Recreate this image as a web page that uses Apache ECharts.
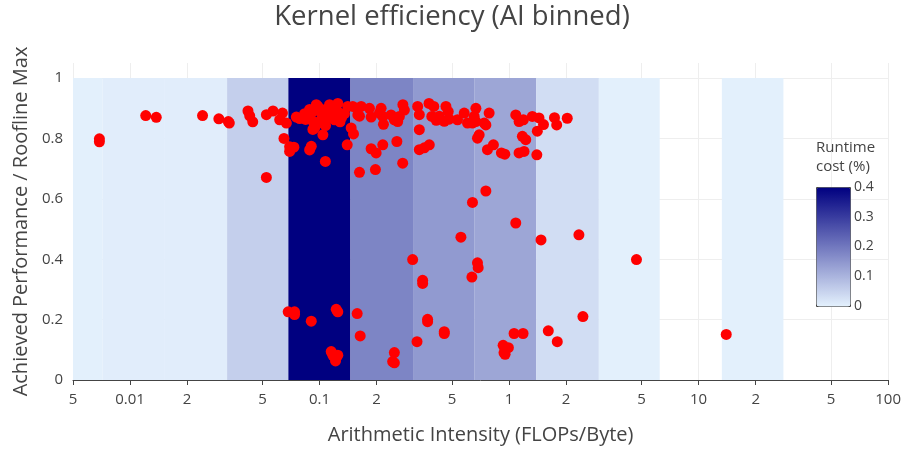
<!DOCTYPE html>
<html>
<head>
<meta charset="utf-8">
<title>Kernel efficiency (AI binned)</title>
<script src="https://cdn.jsdelivr.net/npm/echarts@6/dist/echarts.min.js"></script>
<style>
  html, body { margin: 0; padding: 0; background: #fff; }
  #chart { width: 904px; height: 450px; }
</style>
</head>
<body>
<div id="chart"></div>
<script>
// AI bins (FLOPs/Byte) and the runtime cost (%) of each bin, null = no kernels in bin
const binEdges = [0.00337, 0.00718, 0.01528, 0.03251, 0.06844, 0.1456, 0.3113, 0.6544, 1.392, 2.976, 6.233, 13.26, 28.02]
const binCost = [0.002, 0.006, 0.006, 0.056, 0.4, 0.18, 0.145, 0.125, 0.033, 0.002, null, 0.002]

// one entry per kernel
const aiValues = [
  0.00689, 0.00689, 0.0121, 0.01375, 0.02413, 0.02941, 0.0330, 0.0334, 0.0419, 0.0428,
  0.0444, 0.0524, 0.0524, 0.0568, 0.0616, 0.0637, 0.0668, 0.0649, 0.0695, 0.0732,
  0.0695, 0.0754, 0.0834, 0.0886, 0.0922, 0.0980, 0.0961, 0.1062, 0.1129, 0.1021,
  0.1041, 0.0941, 0.1041, 0.0904, 0.0886, 0.1073, 0.1248, 0.1274, 0.1282, 0.1409,
  0.1468, 0.1510, 0.1399, 0.0886, 0.0922, 0.0922, 0.0953, 0.1024, 0.1102, 0.0976,
  0.1075, 0.1171, 0.1305, 0.0844, 0.0785, 0.0865, 0.1199, 0.1354,
  0.1497, 0.1591, 0.1658, 0.1591, 0.1624, 0.1833, 0.1871, 0.2112, 0.2069, 0.2155,
  0.2173, 0.2384, 0.2481, 0.2583, 0.2637, 0.2751, 0.2802, 0.1871, 0.1988, 0.2155,
  0.2558, 0.2745, 0.1624, 0.1971,
  0.3292, 0.3360, 0.3360, 0.3360, 0.3570, 0.3793, 0.3780, 0.4005, 0.3910, 0.4127,
  0.4280, 0.4643, 0.4775, 0.4833, 0.4549, 0.5343, 0.5797, 0.6033, 0.6409, 0.6544,
  0.6681, 0.6681, 0.7388, 0.7847, 0.7540, 0.6952, 0.6810, 0.7687, 0.8267, 0.9109,
  0.9492, 1.0845, 1.1289, 1.1893, 1.3263, 1.1749, 1.2243, 1.1289, 1.1992,
  1.4384, 1.5189, 1.4090, 1.4007, 1.7358, 1.7827, 2.0271,
  0.6409, 0.7540, 1.0845, 0.5569, 0.3098, 0.6810, 0.6868, 0.6364, 0.3498, 0.3498,
  0.0683, 0.0738, 0.0738, 0.1224, 0.1248, 0.0904, 0.1579, 0.3715, 0.3715, 0.1638,
  0.4549, 0.4549, 0.3267, 1.0624, 1.1849, 0.9299, 0.9915, 0.9527, 0.9400, 0.1152,
  0.1175, 0.1248, 0.1214, 0.2481, 0.2430, 0.2481, 2.3357, 1.4737, 4.700, 2.4518,
  1.6101, 1.7957, 13.99
]
const perfValues = [
  0.799, 0.789, 0.876, 0.870, 0.876, 0.865, 0.856, 0.851, 0.891, 0.875,
  0.855, 0.879, 0.671, 0.891, 0.862, 0.884, 0.851, 0.800, 0.773, 0.771,
  0.757, 0.871, 0.882, 0.866, 0.889, 0.906, 0.912, 0.895, 0.912, 0.862,
  0.879, 0.834, 0.812, 0.774, 0.762, 0.724, 0.916, 0.884, 0.855, 0.906,
  0.835, 0.815, 0.779, 0.896, 0.857, 0.830, 0.896, 0.886, 0.869, 0.850,
  0.843, 0.894, 0.869, 0.863, 0.866, 0.883, 0.862, 0.882,
  0.906, 0.898, 0.906, 0.878, 0.874, 0.900, 0.871, 0.900, 0.884, 0.873,
  0.847, 0.878, 0.862, 0.856, 0.873, 0.912, 0.894, 0.766, 0.752, 0.779,
  0.790, 0.718, 0.688, 0.697,
  0.906, 0.879, 0.829, 0.763, 0.769, 0.779, 0.916, 0.906, 0.873, 0.860,
  0.874, 0.906, 0.889, 0.864, 0.857, 0.862, 0.884, 0.851, 0.851, 0.873,
  0.900, 0.856, 0.851, 0.884, 0.845, 0.812, 0.801, 0.763, 0.779, 0.752,
  0.748, 0.878, 0.856, 0.862, 0.873, 0.807, 0.796, 0.752, 0.757,
  0.868, 0.846, 0.824, 0.746, 0.869, 0.845, 0.867,
  0.588, 0.626, 0.520, 0.473, 0.399, 0.388, 0.372, 0.341, 0.330, 0.320,
  0.226, 0.226, 0.217, 0.234, 0.226, 0.195, 0.220, 0.201, 0.193, 0.146,
  0.160, 0.154, 0.127, 0.154, 0.154, 0.115, 0.107, 0.085, 0.090, 0.094,
  0.082, 0.082, 0.063, 0.091, 0.061, 0.057, 0.481, 0.464, 0.399, 0.210,
  0.163, 0.127, 0.151
]

// tick labels
const aiTicks = [0.005, 0.01, 0.02, 0.05, 0.1, 0.2, 0.5, 1, 2, 5, 10, 20, 50, 100]
const aiTickLabels = ['5', '0.01', '2', '5', '0.1', '2', '5', '1', '2', '5', '10', '2', '5', '100']
const perfTicks = [0, 0.2, 0.4, 0.6, 0.8, 1]
const costTicks = [0, 0.1, 0.2, 0.3, 0.4]

const FONT = '"Open Sans", "Noto Sans", sans-serif'
const TEXT = '#444'

const bands = []
binCost.forEach((cost, i) => {
  if (cost !== null) bands.push([binEdges[i], binEdges[i + 1], cost])
})
const points = aiValues.map((ai, i) => [ai, perfValues[i]])

function renderBand(params, api) {
  const p0 = api.coord([api.value(0), 1])
  const p1 = api.coord([api.value(1), 0])
  const cs = params.coordSys
  const shape = echarts.graphic.clipRectByRect(
    { x: p0[0], y: p0[1], width: p1[0] - p0[0], height: p1[1] - p0[1] },
    { x: cs.x, y: cs.y, width: cs.width, height: cs.height }
  )
  if (!shape) return null
  return { type: 'rect', shape: shape, style: { fill: api.visual('color') } }
}

function aiLabel(v) {
  const i = aiTicks.findIndex(t => Math.abs(Math.log10(t) - v) < 1e-6)
  return i < 0 ? '' : aiTickLabels[i]
}

const chart = echarts.init(document.getElementById('chart'))
chart.setOption({
  animation: false,
  textStyle: { fontFamily: FONT, color: TEXT },
  title: [
    {
      text: 'Kernel efficiency (AI binned)',
      left: 'center',
      top: 3,
      padding: [0, 0, 0, 24],
      textStyle: { fontFamily: FONT, fontSize: 27.5, fontWeight: 'normal', color: TEXT }
    },
    {
      text: 'Runtime\ncost (%)',
      left: 816,
      top: 138,
      padding: 0,
      textStyle: { fontFamily: FONT, fontSize: 15, lineHeight: 19, fontWeight: 'normal', color: TEXT }
    }
  ],
  grid: [
    { left: 73, right: 14, top: 63, bottom: 68 },
    { left: 816, top: 187, width: 34, height: 119 }
  ],
  xAxis: [
    {
      type: 'log',
      gridIndex: 0,
      position: 'bottom',
      min: 0.005,
      max: 100,
      axisLine: { show: true, lineStyle: { color: TEXT, width: 1 } },
      axisTick: { show: false },
      axisLabel: { show: false },
      splitLine: { show: false }
    },
    {
      type: 'value',
      gridIndex: 0,
      position: 'bottom',
      offset: 0,
      min: Math.log10(0.005),
      max: 2,
      name: 'Arithmetic Intensity (FLOPs/Byte)',
      nameLocation: 'middle',
      nameGap: 45,
      nameTextStyle: { fontFamily: FONT, fontSize: 20, color: TEXT },
      axisLine: { show: false },
      axisTick: {
        show: true,
        length: 5,
        customValues: aiTicks.map(Math.log10),
        lineStyle: { color: TEXT }
      },
      axisLabel: {
        customValues: aiTicks.map(Math.log10),
        formatter: aiLabel,
        margin: 12,
        fontSize: 15,
        color: TEXT
      },
      splitLine: { show: true, lineStyle: { color: '#eeeeee', width: 1 } }
    },
    { type: 'value', gridIndex: 1, show: false }
  ],
  yAxis: [
    {
      type: 'value',
      gridIndex: 0,
      min: 0,
      max: 1.05,
      name: 'Achieved Performance / Roofline Max',
      nameLocation: 'middle',
      nameGap: 42,
      nameTextStyle: { fontFamily: FONT, fontSize: 20, color: TEXT },
      axisLine: { show: false },
      axisTick: {
        show: true,
        length: 6,
        customValues: perfTicks,
        lineStyle: { color: TEXT }
      },
      axisLabel: { customValues: perfTicks, margin: 10, fontSize: 15, color: TEXT },
      splitLine: { show: true, lineStyle: { color: '#eeeeee', width: 1 } }
    },
    {
      type: 'value',
      gridIndex: 1,
      position: 'right',
      min: 0,
      max: 0.4,
      axisLine: { show: false },
      axisTick: { show: false },
      splitLine: { show: false },
      axisLabel: { customValues: costTicks, margin: 4, fontSize: 14, color: TEXT }
    }
  ],
  visualMap: {
    type: 'continuous',
    seriesIndex: 0,
    dimension: 2,
    min: 0,
    max: 0.4,
    calculable: false,
    hoverLink: false,
    left: 816,
    top: 187,
    itemWidth: 34,
    itemHeight: 119,
    padding: 0,
    borderColor: TEXT,
    borderWidth: 1,
    inRange: { color: ['#e4f1fd', '#000080'] }
  },
  series: [
    {
      name: 'Runtime cost',
      type: 'custom',
      xAxisIndex: 0,
      yAxisIndex: 0,
      renderItem: renderBand,
      encode: { x: [0, 1], y: 2 },
      data: bands,
      z: 1
    },
    {
      name: 'Kernels',
      type: 'scatter',
      xAxisIndex: 0,
      yAxisIndex: 0,
      symbolSize: 11,
      itemStyle: { color: '#ff0000', opacity: 1 },
      data: points,
      z: 3
    }
  ]
})
</script>
</body>
</html>
